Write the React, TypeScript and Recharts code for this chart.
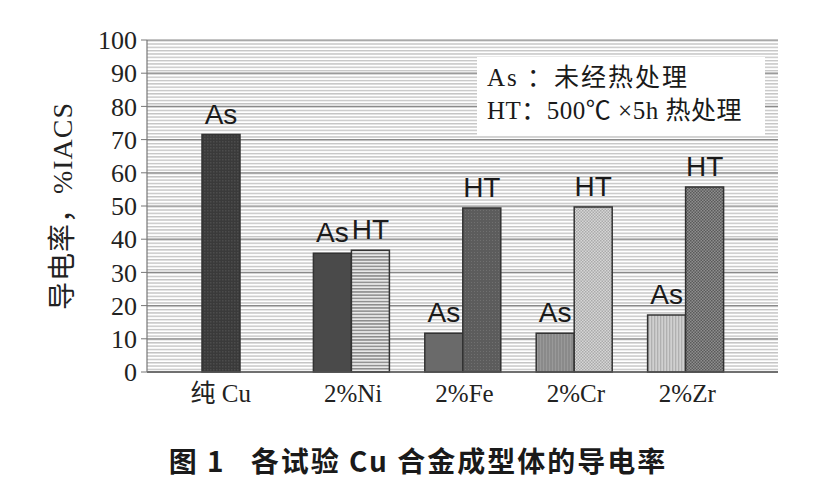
import React from 'react';
import { BarChart, Bar, XAxis, YAxis, CartesianGrid, LabelList, Cell } from 'recharts';

const categories = ['纯 Cu', '2%Ni', '2%Fe', '2%Cr', '2%Zr'];
const asValues = [71.5, 35.8, 11.7, 11.7, 17.2];
const htValues: (number | null)[] = [null, 36.7, 49.4, 49.7, 55.7];
const yTicks = [0, 10, 20, 30, 40, 50, 60, 70, 80, 90, 100];

const asFills = ['url(#pCu)', '#4a4a4a', '#6a6a6a', 'url(#pCrAs)', 'url(#pZrAs)'];
const htFills = ['none', 'url(#pNiHt)', 'url(#pFeHt)', 'url(#pCrHt)', 'url(#pZrHt)'];

const data = categories.map((name, i) => ({ name, As: asValues[i], HT: htValues[i] }));

const serif = '"Liberation Serif", "Noto Sans CJK SC", serif';
const sans = '"Liberation Sans", Arial, sans-serif';

const Patterns = () => (
  <defs>
    <pattern id="bgStripes" patternUnits="userSpaceOnUse" width={10} height={3.32} y={40}>
      <rect width={10} height={3.32} fill="#ffffff" />
      <rect width={10} height={1.4} y={0} fill="#c4c4c4" />
    </pattern>
    <pattern id="pCu" patternUnits="userSpaceOnUse" width={3} height={3}>
      <rect width={3} height={3} fill="#3a3a3a" />
      <rect width={1.5} height={1.5} fill="#4c4c4c" />
    </pattern>
    <pattern id="pNiHt" patternUnits="userSpaceOnUse" width={4} height={3.2}>
      <rect width={4} height={3.2} fill="#e8e8e8" />
      <rect width={4} height={1.5} fill="#8c8c8c" />
    </pattern>
    <pattern id="pFeHt" patternUnits="userSpaceOnUse" width={3} height={3}>
      <rect width={3} height={3} fill="#5c5c5c" />
      <rect width={1} height={1} fill="#707070" />
    </pattern>
    <pattern id="pCrAs" patternUnits="userSpaceOnUse" width={3} height={3}>
      <rect width={3} height={3} fill="#8a8a8a" />
      <rect width={1} height={3} fill="#999999" />
    </pattern>
    <pattern id="pCrHt" patternUnits="userSpaceOnUse" width={3} height={3}>
      <rect width={3} height={3} fill="#d6d6d6" />
      <rect width={1.5} height={1.5} fill="#aaaaaa" />
      <rect x={1.5} y={1.5} width={1.5} height={1.5} fill="#aaaaaa" />
    </pattern>
    <pattern id="pZrAs" patternUnits="userSpaceOnUse" width={3} height={3}>
      <rect width={3} height={3} fill="#d0d0d0" />
      <rect width={1.3} height={3} fill="#b0b0b0" />
    </pattern>
    <pattern id="pZrHt" patternUnits="userSpaceOnUse" width={3} height={3}>
      <rect width={3} height={3} fill="#8e8e8e" />
      <rect width={1.5} height={1.5} fill="#5a5a5a" />
      <rect x={1.5} y={1.5} width={1.5} height={1.5} fill="#5a5a5a" />
    </pattern>
  </defs>
);

// the lone Cu bar sits in the left slot, so its label follows the bar
const CategoryTick = (props: any) => {
  const { x, y, payload, index } = props;
  const shift = index === 0 ? -19 : 2;
  return (
    <text
      x={x + shift}
      y={y + 22}
      textAnchor="middle"
      fill="#222"
      fontFamily={serif}
      fontSize={25}
    >
      {payload.value}
    </text>
  );
};

const App = () => (
  <div style={{ position: 'absolute', left: 0, top: 0, width: 820, height: 494, background: '#fff' }}>
    <BarChart
      width={820}
      height={420}
      data={data}
      margin={{ top: 40, right: 42, bottom: 0, left: 0 }}
      barGap={0}
      barSize={38}
    >
      <Patterns />
      <CartesianGrid
        vertical={false}
        stroke="#8a8a8a"
        strokeWidth={1.2}
        fill="url(#bgStripes)"
        fillOpacity={1}
      />
      <XAxis
        dataKey="name"
        height={48}
        tickLine={false}
        axisLine={{ stroke: '#555', strokeWidth: 1.5 }}
        padding={{ left: 37, right: 37 }}
        tick={<CategoryTick />}
        interval={0}
      />
      <YAxis
        width={147}
        domain={[0, 100]}
        ticks={yTicks}
        interval={0}
        tick={{ fill: '#222', fontFamily: serif, fontSize: 26 }}
        tickLine={{ stroke: '#777' }}
        tickSize={6}
        tickMargin={4}
        axisLine={{ stroke: '#777', strokeWidth: 1.2 }}
        label={{
          value: '导电率，%IACS',
          angle: -90,
          position: 'insideLeft',
          offset: 62,
          dy: 0,
          style: { textAnchor: 'middle', fill: '#222', fontFamily: serif, fontSize: 28, letterSpacing: 1 },
        }}
      />
      <YAxis
        yAxisId="r"
        orientation="right"
        width={0}
        domain={[0, 100]}
        tick={false}
        tickLine={false}
        axisLine={{ stroke: '#8a8a8a', strokeWidth: 1.2 }}
      />
      <Bar dataKey="As" isAnimationActive={false} stroke="#333" strokeWidth={1.5}>
        {asFills.map((f, i) => (
          <Cell key={`as-${i}`} fill={f} />
        ))}
        <LabelList
          dataKey="As"
          position="top"
          offset={11}
          formatter={() => 'As'}
          style={{ fill: '#1a1a1a', fontFamily: sans, fontSize: 28 }}
        />
      </Bar>
      <Bar dataKey="HT" isAnimationActive={false} stroke="#333" strokeWidth={1.5}>
        {htFills.map((f, i) => (
          <Cell key={`ht-${i}`} fill={f} />
        ))}
        <LabelList
          dataKey="HT"
          position="top"
          offset={11}
          formatter={(v: any) => (v == null ? '' : 'HT')}
          style={{ fill: '#1a1a1a', fontFamily: sans, fontSize: 28 }}
        />
      </Bar>
    </BarChart>
    <div
      style={{
        position: 'absolute',
        left: 477,
        top: 57,
        width: 288,
        height: 78,
        background: '#fff',
        fontFamily: serif,
        fontSize: 25,
        color: '#1a1a1a',
        lineHeight: '33px',
        padding: '4px 0 0 10px',
        boxSizing: 'border-box',
        whiteSpace: 'pre',
      }}
    >
      <div style={{ letterSpacing: 2 }}>{'As ：未经热处理'}</div>
      <div style={{ letterSpacing: 0.5 }}>{'HT：500℃ ×5h 热处理'}</div>
    </div>
    <div
      style={{
        position: 'absolute',
        left: 0,
        top: 440,
        width: 836,
        textAlign: 'center',
        fontFamily: '"Noto Sans CJK SC", sans-serif',
        fontWeight: 'bold',
        fontSize: 28,
        letterSpacing: 2,
        color: '#1a1a1a',
        whiteSpace: 'pre',
      }}
    >
      {'图 1   各试验 Cu 合金成型体的导电率'}
    </div>
  </div>
);

export default App;
